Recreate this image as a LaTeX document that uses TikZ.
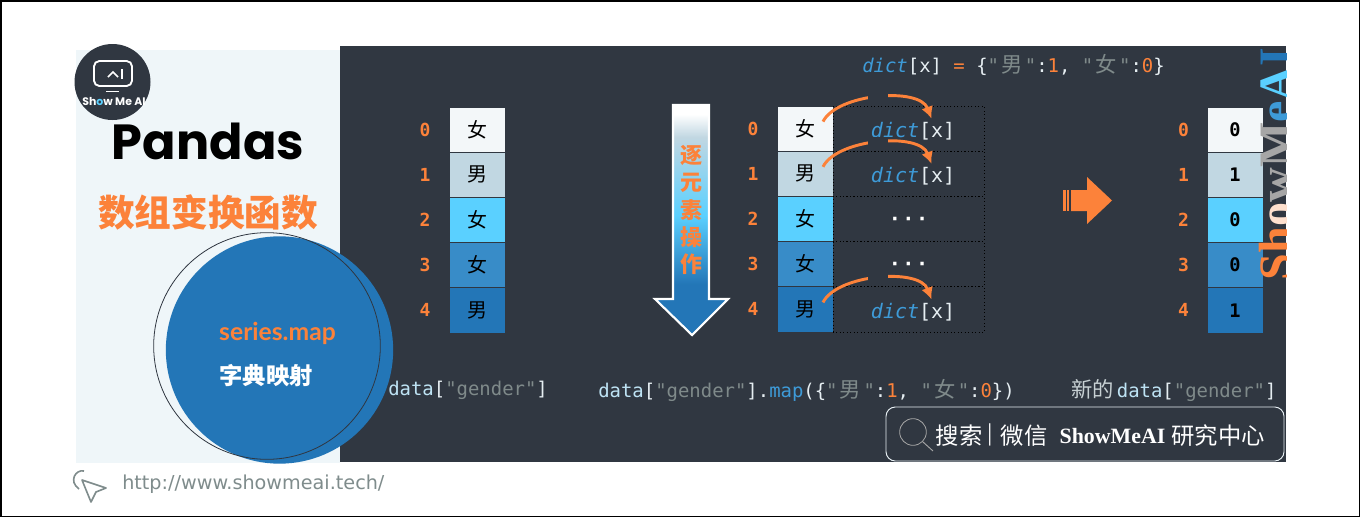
\documentclass[tikz,border=0pt]{standalone}
\usepackage{fontspec}
\usepackage{xcolor}
\usepackage{tikz}
\usetikzlibrary{arrows.meta,positioning,calc}
\newfontfamily\cjk{Noto Sans CJK SC}
\newfontfamily\codefont{DejaVu Sans Mono}
\newfontfamily\capfont{Lato}
\newfontfamily\logofont{Poppins}
\newfontfamily\wmfont{Liberation Serif}
\newfontfamily\urlfont{DejaVu Sans}
\definecolor{panel}{HTML}{303741}
\definecolor{sheet}{HTML}{EFF6F9}
\definecolor{hot}{HTML}{FC823A}
\definecolor{bluea}{HTML}{F3F7F9}
\definecolor{blueb}{HTML}{C1D7E2}
\definecolor{bluec}{HTML}{5AD0FF}
\definecolor{blued}{HTML}{388CC8}
\definecolor{bluee}{HTML}{2376B7}
\definecolor{codewhite}{HTML}{E6EEF2}
\definecolor{codeblue}{HTML}{BEE3F4}
\definecolor{codegray}{HTML}{7F8A8A}
\definecolor{dictblue}{HTML}{3E9BD8}
\definecolor{urlgray}{HTML}{7F8C8C}
\newcommand{\cnchar}[1]{{\cjk\fontsize{16}{19}\selectfont #1}}
\newcommand{\cnpad}[1]{\hspace{1.7pt}\cnchar{#1}\hspace{1.7pt}}
\newcommand{\genderkey}{\textcolor{codeblue}{data}\textcolor{codewhite}{[}\textcolor{codegray}{"gender"}\textcolor{codewhite}{]}}
\newcommand{\dictx}{\textcolor{dictblue}{\itshape dict}\textcolor{codewhite}{[x]}}
\newcommand{\slotdict}{\hspace*{7pt}\smash{\raisebox{-6.5pt}{\dictx}}}
\newcommand{\slotdots}{\smash{\raisebox{-4.6pt}{· · ·}}}
\pgfdeclareverticalshading{fadedown}{100bp}{color(0bp)=(bluee); color(36bp)=(bluee); color(51bp)=(bluec); color(68bp)=(blueb); color(73bp)=(white); color(100bp)=(white)}

\begin{document}
\begin{tikzpicture}[
  x=0.75pt, y=-0.75pt,
  cell/.style={draw=panel, line width=.5pt, outer sep=0pt, inner sep=0pt, minimum width=42pt, minimum height=33.9pt, font=\cjk\fontsize{15}{18}\selectfont},
  numcell/.style={cell, font=\codefont\bfseries\fontsize{14}{16}\selectfont},
  slot/.style={draw=black, dotted, line width=.6pt, outer sep=0pt, inner sep=0pt, minimum width=113.2pt, minimum height=33.9pt, font=\codefont\fontsize{15}{18}\selectfont},
  dotslot/.style={slot, text=white, font=\urlfont\bfseries\fontsize{14}{16}\selectfont},
  idx/.style={inner sep=0pt, outer sep=0pt, text=hot, font=\codefont\bfseries\fontsize{13.5}{16}\selectfont},
  code/.style={inner sep=0pt, anchor=west, font=\codefont\fontsize{14.2}{17}\selectfont},
  hop/.style={-{Latex[length=9pt,width=9pt]}, hot, line width=2.2pt},
  gap/.style={fill=panel, inner sep=0pt, minimum width=15pt, minimum height=9pt},
  brand/.style={inner sep=0pt, text=white},
]
\useasboundingbox (0,0) rectangle (1361,518);
\fill[white] (0,0) rectangle (1361,518);
\draw[black, line width=1.2pt] (1,1) rectangle (1359.5,516.5);

% --- panels ----------------------------------------------------------------
\fill[sheet] (76,50) rectangle (340,463);
\fill[panel] (340,46) rectangle (1286,462);

% --- logo ------------------------------------------------------------------
\node[circle, fill=panel, inner sep=0pt, minimum size=57pt] (logo) at (112.5,82) {};
\draw[white, line width=1.4pt, rounded corners=4pt] (94,61) rectangle (132,86);
\draw[white, line width=1.2pt] (108,77) -- (113,72) -- (118,77);
\draw[white, line width=1.4pt] (122,69) -- (122,79);
\draw[white, line width=1.4pt] (106,91.5) -- (119,91.5);
\node[brand, font=\logofont\bfseries\fontsize{8.2}{10}\selectfont] (logotext) at (114,101) {Sh\textcolor{bluec}{o}w Me AI};

% --- left column -----------------------------------------------------------
\node[inner sep=0pt, font=\logofont\bfseries\fontsize{37}{44}\selectfont] (title) at (208,141) {Pandas};
\node[inner sep=0pt, text=hot, font=\cjk\bfseries\fontsize{27.5}{32}\selectfont] (subtitle) at (208,212) {数组变换函数};
\node[circle, fill=bluee, inner sep=0pt, minimum size=170.5pt] (disc) at (279.5,350) {};
\node[circle, draw=panel, line width=.6pt, inner sep=0pt, minimum size=170pt] (ring) at (267,346) {};
\node[inner sep=0pt, text=hot, font=\capfont\bfseries\fontsize{18.5}{20}\selectfont] (method) at (277.5,333) {series.map};
\node[inner sep=0pt, text=white, font=\cjk\bfseries\fontsize{17.5}{20}\selectfont] (methodcn) at (266,375.5) {字典映射};

% --- source column ---------------------------------------------------------
\node[cell, fill=bluea] (lc0) at (477,129.6) {女};
\node[cell, fill=blueb, below=0pt of lc0] (lc1) {男};
\node[cell, fill=bluec, below=0pt of lc1] (lc2) {女};
\node[cell, fill=blued, below=0pt of lc2] (lc3) {女};
\node[cell, fill=bluee, below=0pt of lc3] (lc4) {男};
\node[idx, left=14pt of lc0] (li0) {0};
\node[idx, left=14pt of lc1] (li1) {1};
\node[idx, left=14pt of lc2] (li2) {2};
\node[idx, left=14pt of lc3] (li3) {3};
\node[idx, left=14pt of lc4] (li4) {4};

% --- down arrow ------------------------------------------------------------
\draw[white, line width=1.6pt, shading=fadedown] (673,105) -- (709,105) -- (709,299) -- (728,299) -- (692,335) -- (655,299) -- (673,299) -- cycle;
\node[inner sep=0pt, text=hot, align=center, font=\cjk\bfseries\fontsize{16.5}{20.6}\selectfont] (steptext) at (691,210) {逐\\元\\素\\操\\作};

% --- mapping column --------------------------------------------------------
\node[code] (dictline) at (862,65) {\dictx\textcolor{hot}{\ =\ }\textcolor{codewhite}{\{}\textcolor{codegray}{"\cnpad{男}"}\textcolor{codewhite}{:}\textcolor{hot}{1}\textcolor{codewhite}{,\ }\textcolor{codegray}{"\cnpad{女}"}\textcolor{codewhite}{:}\textcolor{hot}{0}\textcolor{codewhite}{\}}};
\node[cell, fill=bluea] (mc0) at (805,128.6) {女};
\node[cell, fill=blueb, below=0pt of mc0] (mc1) {男};
\node[cell, fill=bluec, below=0pt of mc1] (mc2) {女};
\node[cell, fill=blued, below=0pt of mc2] (mc3) {女};
\node[cell, fill=bluee, below=0pt of mc3] (mc4) {男};
\node[idx, left=14pt of mc0] (mi0) {0};
\node[idx, left=14pt of mc1] (mi1) {1};
\node[idx, left=14pt of mc2] (mi2) {2};
\node[idx, left=14pt of mc3] (mi3) {3};
\node[idx, left=14pt of mc4] (mi4) {4};
\node[slot, right=0pt of mc0] (md0) {\slotdict};
\node[slot, right=0pt of mc1] (md1) {\slotdict};
\node[dotslot, right=0pt of mc2] (md2) {\slotdots};
\node[dotslot, right=0pt of mc3] (md3) {\slotdots};
\node[slot, right=0pt of mc4] (md4) {\slotdict};

% --- hops ------------------------------------------------------------------
\draw[hop] ([shift={(-10,-7)}]mc0.east) .. controls +(14,-28) and +(-12,-32) .. node[gap, pos=.5] (gap0) {} ([shift={(23,-10)}]md0.center);
\draw[hop] ([shift={(-10,-7)}]mc1.east) .. controls +(14,-28) and +(-12,-32) .. node[gap, pos=.5] (gap1) {} ([shift={(23,-10)}]md1.center);
\draw[hop] ([shift={(-10,-7)}]mc4.east) .. controls +(14,-28) and +(-12,-32) .. node[gap, pos=.5] (gap4) {} ([shift={(23,-10)}]md4.center);

% --- big arrow -------------------------------------------------------------
\fill[hot] (1063,190) rectangle (1065.5,211);
\fill[hot] (1066.5,190) rectangle (1069,211);
\fill[hot] (1071,190) -- (1087,190) -- (1087,177) -- (1112,200.5) -- (1087,224) -- (1087,211) -- (1071,211) -- cycle;

% --- result column ---------------------------------------------------------
\node[numcell, fill=bluea] (rc0) at (1235,129.6) {0};
\node[numcell, fill=blueb, below=0pt of rc0] (rc1) {1};
\node[numcell, fill=bluec, below=0pt of rc1] (rc2) {0};
\node[numcell, fill=blued, below=0pt of rc2] (rc3) {0};
\node[numcell, fill=bluee, below=0pt of rc3] (rc4) {1};
\node[idx, left=13.5pt of rc0] (ri0) {0};
\node[idx, left=13.5pt of rc1] (ri1) {1};
\node[idx, left=13.5pt of rc2] (ri2) {2};
\node[idx, left=13.5pt of rc3] (ri3) {3};
\node[idx, left=13.5pt of rc4] (ri4) {4};

% --- watermark -------------------------------------------------------------
\begin{scope}
\clip (1200,46) rectangle (1286,462);
\node[rotate=90, anchor=base, inner sep=0pt, font=\wmfont\bfseries\fontsize{36}{40}\selectfont] (mark) at (1292,164) {\textcolor{hot}{Sh}\textcolor{white!75!hot}{o}\textcolor{gray!70}{wM}\textcolor{dictblue}{e}\textcolor{bluec}{A}\textcolor{bluee}{I}};
\end{scope}

% --- bottom labels ---------------------------------------------------------
\node[code] (srclabel) at (388,390.5) {\genderkey};
\node[code] (maplabel) at (598,390.5) {\genderkey\textcolor{codewhite}{.}\textcolor{dictblue}{map}\textcolor{codewhite}{(\{}\textcolor{codegray}{"\cnpad{男}"}\textcolor{codewhite}{:}\textcolor{hot}{1}\textcolor{codewhite}{,\ }\textcolor{codegray}{"\cnpad{女}"}\textcolor{codewhite}{:}\textcolor{hot}{0}\textcolor{codewhite}{\})}};
\node[code] (newlabel) at (1071,390.5) {\textcolor{codewhite!70!codegray}{\cnchar{新的}}\hspace{2.2pt}\genderkey};

% --- search box ------------------------------------------------------------
\node[draw=codewhite, line width=.7pt, rounded corners=7pt, inner sep=0pt, minimum width=298.5pt, minimum height=40.5pt] (searchbox) at (1085,434) {};
\node[circle, draw=gray!70, line width=.6pt, inner sep=0pt, minimum size=20pt] (lens) at (913,432) {};
\coordinate (lensend) at (933,451);
\draw[gray!70, line width=.7pt] (lens.-45) -- (lensend);
\node[inner sep=0pt, text=white, font=\cjk\fontsize{17.5}{20}\selectfont] (searchcn) at (959,436) {搜索};
\node[inner sep=0pt, text=white, font=\cjk\fontsize{15}{18}\selectfont] (bar) at (990,435) {|};
\node[inner sep=0pt, text=white, font=\cjk\fontsize{17.5}{20}\selectfont] (wechat) at (1024,436) {微信};
\node[inner sep=0pt, text=white, font=\wmfont\bfseries\fontsize{16.4}{18}\selectfont] (brandname) at (1112.5,436) {ShowMeAI};
\node[inner sep=0pt, text=white, font=\cjk\fontsize{17.5}{20}\selectfont] (center) at (1218,436) {研究中心};

% --- footer ----------------------------------------------------------------
\draw[urlgray, line width=1.2pt, line join=round] (82,480) -- (106,488) -- (96,492) -- (91,502) -- cycle;
\draw[urlgray, line width=1.2pt] (84,471) .. controls (76,469) and (68,481) .. (79,489);
\node[inner sep=0pt, anchor=west, text=urlgray, font=\urlfont\fontsize{14.4}{17}\selectfont] (url) at (122,484) {http://www.showmeai.tech/};
\end{tikzpicture}
\end{document}
